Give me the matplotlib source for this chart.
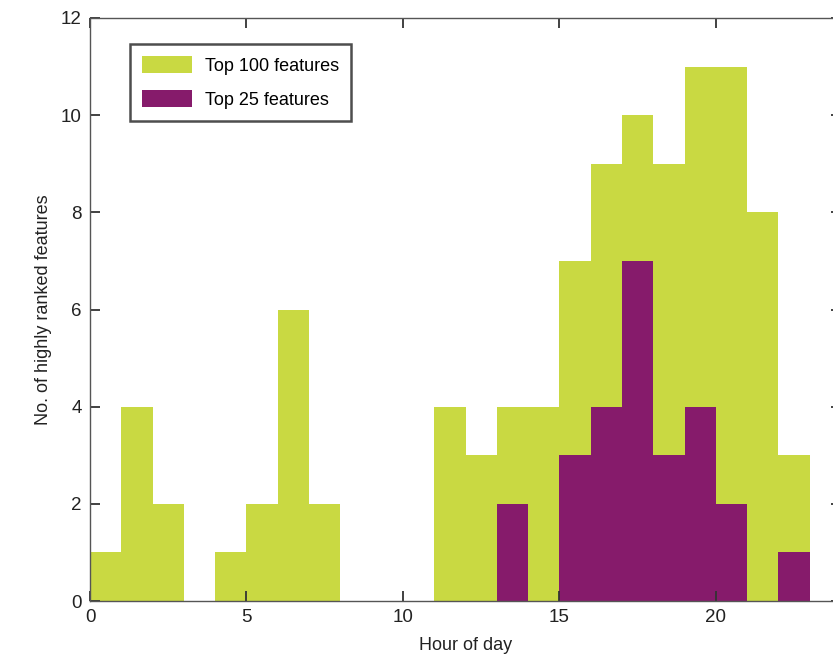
import matplotlib
matplotlib.use("Agg")
import matplotlib.pyplot as plt

# hour bins (left edges) and counts
hours = list(range(23))
top100 = [1, 4, 2, 0, 1, 2, 6, 2, 0, 0, 0, 4, 3, 4, 4, 7, 9, 10, 9, 11, 11, 8, 3]
top25 = [0, 0, 0, 0, 0, 0, 0, 0, 0, 0, 0, 0, 0, 2, 0, 3, 4, 7, 3, 4, 2, 0, 1]

lime = "#c9d942"
purple = "#861b6b"

plt.rcParams["font.family"] = ["Liberation Sans", "DejaVu Sans"]

fig = plt.figure(figsize=(8.33, 6.55), dpi=100)
ax = fig.add_axes([90 / 833, 54 / 655, 751 / 833, 583 / 655])

ax.bar(hours, top100, width=1, align="edge", color=lime, linewidth=0, label="Top 100 features")
ax.bar(hours, top25, width=1, align="edge", color=purple, linewidth=0, label="Top 25 features")

ax.set_xlim(0, 24)
ax.set_ylim(0, 12)
ax.set_xticks([0, 5, 10, 15, 20])
ax.set_yticks(range(0, 13, 2))

ax.tick_params(direction="in", length=7, width=1.3, color="#333333", labelsize=13.5,
               labelcolor="#222222", top=True, right=True, pad=6)
for s in ax.spines.values():
    s.set_color("#555555")
    s.set_linewidth(1.0)

ax.set_xlabel("Hour of day", fontsize=13, color="#222222", labelpad=8)
ax.set_ylabel("No. of highly ranked features", fontsize=13, color="#222222", labelpad=6)

leg = ax.legend(loc="upper left", bbox_to_anchor=(0.053, 0.955), fontsize=13, fancybox=False,
                frameon=True, handlelength=2.8, handleheight=1.1, borderpad=0.65,
                labelspacing=0.85, handletextpad=0.7, borderaxespad=0)
leg.get_frame().set_edgecolor("#222222")
leg.get_frame().set_linewidth(1.8)

fig.savefig("out.png", dpi=100)
